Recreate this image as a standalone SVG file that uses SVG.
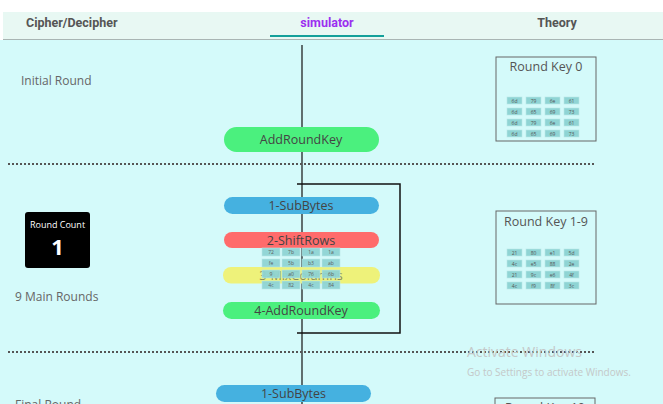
<svg xmlns="http://www.w3.org/2000/svg" width="663" height="404" viewBox="0 0 663 404">
<style>
.hdr{font-family:Roboto,"Liberation Sans",sans-serif;font-weight:bold;font-size:12.5px;fill:#555}
.lbl{font-family:"Open Sans","DejaVu Sans",sans-serif;font-size:12px;fill:#666}
.pill{font-family:"Open Sans","DejaVu Sans",sans-serif;font-size:12.5px;fill:#444;text-anchor:middle}
.cell{fill:#8fd4d4;stroke:#b8e6e6;stroke-width:0.6}
.ct{font-family:"Open Sans","DejaVu Sans",sans-serif;font-size:5px;fill:#555;text-anchor:middle}
.kbox{fill:none;stroke:#666;stroke-width:1}
.kt{font-family:"Open Sans","DejaVu Sans",sans-serif;font-size:12.5px;fill:#555;text-anchor:middle}
.dot{stroke:#555;stroke-width:2;stroke-dasharray:2,2}
.wm{font-family:"Open Sans","DejaVu Sans",sans-serif;fill:#c4c8c8}
</style>
<rect x="0" y="0" width="663" height="404" fill="#ffffff"/>
<rect x="3" y="12" width="660" height="28" fill="#e8f8f3"/>
<rect x="0" y="40" width="663" height="364" fill="#d4fafa"/>
<line x1="3" y1="39.5" x2="663" y2="39.5" stroke="#a9b5b3" stroke-width="1"/>
<g id="header">
<text class="hdr" x="26" y="27">Cipher/Decipher</text>
<text class="hdr" x="327" y="27" text-anchor="middle" style="fill:#9b2ff0">simulator</text>
<rect x="270" y="35" width="114" height="2" fill="#14a09a"/>
<text class="hdr" x="557" y="27" text-anchor="middle">Theory</text>
</g>
<g id="connectors">
<line x1="302" y1="45" x2="302" y2="404" stroke="#111" stroke-width="1.2"/>
<polyline points="297,184 400,184 400,333 297,333" fill="none" stroke="#111" stroke-width="1.5"/>
<line class="dot" x1="8" y1="164" x2="596" y2="164"/>
<line class="dot" x1="8" y1="352" x2="596" y2="352"/>
</g>
<g id="labels">
<text class="lbl" x="21" y="85">Initial Round</text>
<text class="lbl" x="15" y="301">9 Main Rounds</text>
<text class="lbl" x="15" y="409">Final Round</text>
</g>
<g id="addroundkey0">
<rect x="224" y="127" width="155" height="25" rx="12.5" fill="#4bf07e"/>
<text class="pill" x="301" y="144">AddRoundKey</text>
</g>
<g id="subbytes">
<rect x="224" y="197" width="155" height="17" rx="8.5" fill="#45b1e0"/>
<text class="pill" x="301" y="210">1-SubBytes</text>
</g>
<g id="shiftrows">
<rect x="224" y="232" width="155" height="16" rx="8" fill="#ff6b6b"/>
<text class="pill" x="301" y="245">2-ShiftRows</text>
</g>
<g id="mixcolumns">
<rect x="223" y="267" width="157" height="16.5" rx="8" fill="#eef27a"/>
<text class="pill" x="301" y="280" opacity="0.6">3-MixColumns</text>
</g>
<g id="addroundkey">
<rect x="223" y="302" width="157" height="17" rx="8.5" fill="#4bf07e"/>
<text class="pill" x="301" y="315">4-AddRoundKey</text>
</g>
<g id="state" opacity="0.94">
<rect class="cell" x="262" y="248" width="18" height="8"/><text class="ct" x="271" y="254">72</text>
<rect class="cell" x="282" y="248" width="18" height="8"/><text class="ct" x="291" y="254">7b</text>
<rect class="cell" x="302" y="248" width="18" height="8"/><text class="ct" x="311" y="254">1a</text>
<rect class="cell" x="322" y="248" width="18" height="8"/><text class="ct" x="331" y="254">1a</text>
<rect class="cell" x="262" y="259" width="18" height="8"/><text class="ct" x="271" y="265">fe</text>
<rect class="cell" x="282" y="259" width="18" height="8"/><text class="ct" x="291" y="265">5b</text>
<rect class="cell" x="302" y="259" width="18" height="8"/><text class="ct" x="311" y="265">b3</text>
<rect class="cell" x="322" y="259" width="18" height="8"/><text class="ct" x="331" y="265">ab</text>
<rect class="cell" x="262" y="270" width="18" height="8"/><text class="ct" x="271" y="276">9</text>
<rect class="cell" x="282" y="270" width="18" height="8"/><text class="ct" x="291" y="276">a0</text>
<rect class="cell" x="302" y="270" width="18" height="8"/><text class="ct" x="311" y="276">76</text>
<rect class="cell" x="322" y="270" width="18" height="8"/><text class="ct" x="331" y="276">6b</text>
<rect class="cell" x="262" y="281" width="18" height="8"/><text class="ct" x="271" y="287">4c</text>
<rect class="cell" x="282" y="281" width="18" height="8"/><text class="ct" x="291" y="287">82</text>
<rect class="cell" x="302" y="281" width="18" height="8"/><text class="ct" x="311" y="287">4c</text>
<rect class="cell" x="322" y="281" width="18" height="8"/><text class="ct" x="331" y="287">84</text>
</g>
<g id="roundcount">
<rect x="25" y="212" width="65" height="56" rx="3" fill="#000"/>
<text x="57.5" y="228" text-anchor="middle" font-family="'Open Sans','DejaVu Sans',sans-serif" font-size="9" fill="#fff">Round Count</text>
<text x="57.5" y="255" text-anchor="middle" font-family="'Open Sans','DejaVu Sans',sans-serif" font-size="22" font-weight="bold" fill="#fff">1</text>
</g>
<g id="roundkey0">
<rect class="kbox" x="496" y="57" width="100" height="84"/>
<text class="kt" x="546" y="71">Round Key 0</text>
<rect class="cell" x="507" y="97" width="15" height="7"/><text class="ct" x="514.5" y="102.5">6d</text>
<rect class="cell" x="526" y="97" width="15" height="7"/><text class="ct" x="533.5" y="102.5">79</text>
<rect class="cell" x="545" y="97" width="15" height="7"/><text class="ct" x="552.5" y="102.5">6e</text>
<rect class="cell" x="564" y="97" width="15" height="7"/><text class="ct" x="571.5" y="102.5">61</text>
<rect class="cell" x="507" y="108" width="15" height="7"/><text class="ct" x="514.5" y="113.5">6d</text>
<rect class="cell" x="526" y="108" width="15" height="7"/><text class="ct" x="533.5" y="113.5">65</text>
<rect class="cell" x="545" y="108" width="15" height="7"/><text class="ct" x="552.5" y="113.5">69</text>
<rect class="cell" x="564" y="108" width="15" height="7"/><text class="ct" x="571.5" y="113.5">73</text>
<rect class="cell" x="507" y="119" width="15" height="7"/><text class="ct" x="514.5" y="124.5">6d</text>
<rect class="cell" x="526" y="119" width="15" height="7"/><text class="ct" x="533.5" y="124.5">79</text>
<rect class="cell" x="545" y="119" width="15" height="7"/><text class="ct" x="552.5" y="124.5">6e</text>
<rect class="cell" x="564" y="119" width="15" height="7"/><text class="ct" x="571.5" y="124.5">61</text>
<rect class="cell" x="507" y="130" width="15" height="7"/><text class="ct" x="514.5" y="135.5">6d</text>
<rect class="cell" x="526" y="130" width="15" height="7"/><text class="ct" x="533.5" y="135.5">65</text>
<rect class="cell" x="545" y="130" width="15" height="7"/><text class="ct" x="552.5" y="135.5">69</text>
<rect class="cell" x="564" y="130" width="15" height="7"/><text class="ct" x="571.5" y="135.5">73</text>
</g>
<g id="roundkey19">
<rect class="kbox" x="496" y="211" width="100" height="93"/>
<text class="kt" x="546" y="226">Round Key 1-9</text>
<rect class="cell" x="507" y="249" width="15" height="7"/><text class="ct" x="514.5" y="254.5">21</text>
<rect class="cell" x="526" y="249" width="15" height="7"/><text class="ct" x="533.5" y="254.5">80</text>
<rect class="cell" x="545" y="249" width="15" height="7"/><text class="ct" x="552.5" y="254.5">e1</text>
<rect class="cell" x="564" y="249" width="15" height="7"/><text class="ct" x="571.5" y="254.5">5d</text>
<rect class="cell" x="507" y="260" width="15" height="7"/><text class="ct" x="514.5" y="265.5">4c</text>
<rect class="cell" x="526" y="260" width="15" height="7"/><text class="ct" x="533.5" y="265.5">e5</text>
<rect class="cell" x="545" y="260" width="15" height="7"/><text class="ct" x="552.5" y="265.5">88</text>
<rect class="cell" x="564" y="260" width="15" height="7"/><text class="ct" x="571.5" y="265.5">2e</text>
<rect class="cell" x="507" y="271" width="15" height="7"/><text class="ct" x="514.5" y="276.5">21</text>
<rect class="cell" x="526" y="271" width="15" height="7"/><text class="ct" x="533.5" y="276.5">9c</text>
<rect class="cell" x="545" y="271" width="15" height="7"/><text class="ct" x="552.5" y="276.5">e6</text>
<rect class="cell" x="564" y="271" width="15" height="7"/><text class="ct" x="571.5" y="276.5">4f</text>
<rect class="cell" x="507" y="282" width="15" height="7"/><text class="ct" x="514.5" y="287.5">4c</text>
<rect class="cell" x="526" y="282" width="15" height="7"/><text class="ct" x="533.5" y="287.5">f9</text>
<rect class="cell" x="545" y="282" width="15" height="7"/><text class="ct" x="552.5" y="287.5">8f</text>
<rect class="cell" x="564" y="282" width="15" height="7"/><text class="ct" x="571.5" y="287.5">3c</text>
</g>
<g id="watermark">
<text class="wm" x="467" y="357" font-size="14">Activate Windows</text>
<text class="wm" x="467" y="376" font-size="10">Go to Settings to activate Windows.</text>
</g>
<g id="subbytes-final">
<rect x="216" y="385" width="155" height="17" rx="8.5" fill="#45b1e0"/>
<text class="pill" x="293.5" y="398">1-SubBytes</text>
</g>
<g id="roundkey10">
<rect class="kbox" x="495" y="398" width="100" height="30"/>
<text class="kt" x="545" y="412">Round Key 10</text>
</g>
</svg>
